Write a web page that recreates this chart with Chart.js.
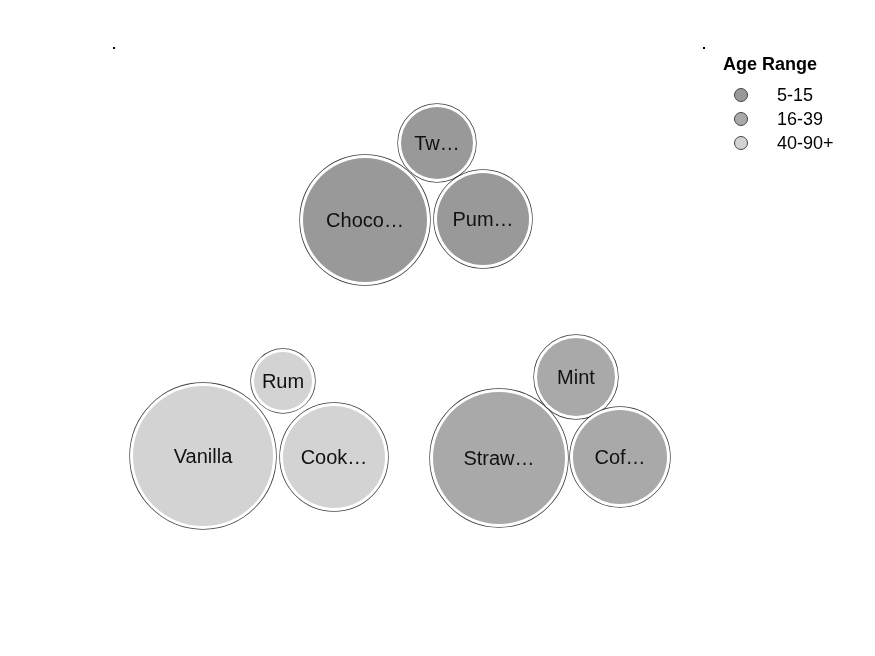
<!DOCTYPE html>
<html>
<head>
<meta charset="utf-8">
<script src="https://cdn.jsdelivr.net/npm/chart.js@4.4.1/dist/chart.umd.min.js"></script>
<style>
  html, body { margin: 0; padding: 0; background: #fff; }
  #wrap { width: 875px; height: 656px; }
</style>
</head>
<body>
<div id="wrap"><canvas id="myChart"></canvas></div>
<script>
// age groups (legend)
const ageRanges = ['5-15', '16-39', '40-90+'];
const groupColors = ['#999999', '#a9a9a9', '#d3d3d3'];

// bubbles per age group, labels as shown (truncated)
const labels5to15 = ['Choco…', 'Tw…', 'Pum…'];
const x5to15 = [365, 437, 483];
const y5to15 = [220, 143, 219];
const r5to15 = [62, 36, 46];

const labels16to39 = ['Straw…', 'Mint', 'Cof…'];
const x16to39 = [499, 576, 620];
const y16to39 = [458, 377, 457];
const r16to39 = [66, 39, 47];

const labels40to90 = ['Vanilla', 'Rum', 'Cook…'];
const x40to90 = [203, 283, 334];
const y40to90 = [456, 381, 457];
const r40to90 = [70, 29, 51];

const groups = [
  [labels5to15, x5to15, y5to15, r5to15],
  [labels16to39, x16to39, y16to39, r16to39],
  [labels40to90, x40to90, y40to90, r40to90],
];

const datasets = groups.map((g, i) => ({
  label: ageRanges[i],
  names: g[0],
  data: g[1].map((x, j) => ({ x: x, y: g[2][j], r: g[3][j] })),
  backgroundColor: groupColors[i],
  borderWidth: 0,
  hoverBorderWidth: 0,
}));

// dark halo ring round each bubble, with a white gap
const haloPlugin = {
  id: 'halo',
  beforeDatasetsDraw(chart) {
    const ctx = chart.ctx;
    ctx.save();
    chart.data.datasets.forEach((ds, i) => {
      chart.getDatasetMeta(i).data.forEach((el, j) => {
        ctx.beginPath();
        ctx.arc(el.x, el.y, ds.data[j].r + 3, 0, Math.PI * 2);
        ctx.strokeStyle = 'rgba(0,0,0,0.75)';
        ctx.lineWidth = 1.4;
        ctx.stroke();
        ctx.fillStyle = '#fff';
        ctx.fill();
      });
    });
    // little corner ticks of the hidden axes
    ctx.fillStyle = '#000';
    ctx.fillRect(113, 47, 2, 2);
    ctx.fillRect(703, 47, 2, 2);
    ctx.restore();
  }
};

// text inside bubbles
const bubbleLabels = {
  id: 'bubbleLabels',
  afterDatasetsDraw(chart) {
    const ctx = chart.ctx;
    ctx.save();
    ctx.font = '20px "Liberation Sans", Arial, sans-serif';
    ctx.fillStyle = '#111';
    ctx.textAlign = 'center';
    ctx.textBaseline = 'middle';
    chart.data.datasets.forEach((ds, i) => {
      chart.getDatasetMeta(i).data.forEach((el, j) => {
        ctx.fillText(ds.names[j], el.x, el.y + 1);
      });
    });
    ctx.restore();
  }
};

// legend in the top right corner
const ageLegend = {
  id: 'ageLegend',
  afterDraw(chart) {
    const ctx = chart.ctx;
    ctx.save();
    ctx.fillStyle = '#000';
    ctx.textBaseline = 'middle';
    ctx.textAlign = 'left';
    ctx.font = 'bold 18px "Liberation Sans", Arial, sans-serif';
    ctx.fillText('Age Range', 723, 65);
    ctx.font = '18px "Liberation Sans", Arial, sans-serif';
    chart.data.datasets.forEach((ds, i) => {
      const y = 95 + i * 24;
      ctx.beginPath();
      ctx.arc(741, y, 6.5, 0, Math.PI * 2);
      ctx.fillStyle = ds.backgroundColor;
      ctx.fill();
      ctx.strokeStyle = '#444';
      ctx.lineWidth = 1;
      ctx.stroke();
      ctx.fillStyle = '#000';
      ctx.fillText(ds.label, 777, y + 1);
    });
    ctx.restore();
  }
};

const config = {
  type: 'bubble',
  data: { datasets: datasets },
  options: {
    responsive: true,
    maintainAspectRatio: false,
    animation: false,
    events: [],
    layout: { padding: 0, autoPadding: false },
    plugins: {
      legend: { display: false },
      tooltip: { enabled: false },
    },
    scales: {
      x: { type: 'linear', min: 0, max: 875, display: false },
      y: { type: 'linear', min: 0, max: 656, reverse: true, display: false },
    },
  },
  plugins: [haloPlugin, bubbleLabels, ageLegend],
};

const myChart = new Chart(document.getElementById('myChart'), config);
</script>
</body>
</html>
